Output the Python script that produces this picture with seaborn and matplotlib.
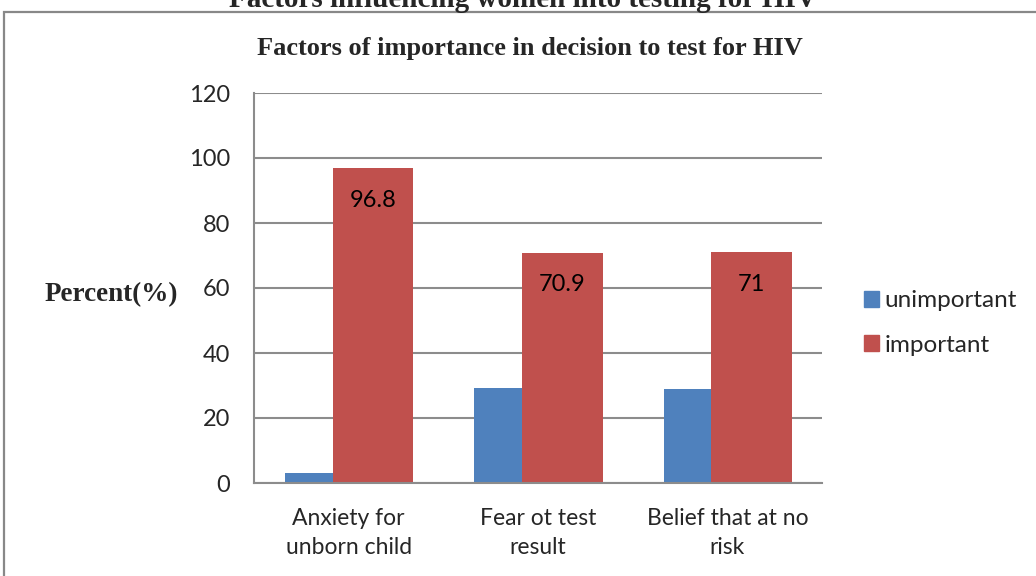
import pandas as pd
import matplotlib.pyplot as plt
import matplotlib.patches as mpatches
import seaborn as sns

# data
factors = ["Anxiety for\nunborn child", "Fear ot test\nresult", "Belief that at no\nrisk"]
unimportant = [3.2, 29.1, 29.0]
important = [96.8, 70.9, 71.0]
series_names = ["unimportant", "important"]
y_ticks = [0, 20, 40, 60, 80, 100, 120]

colors = {"unimportant": "#4F81BD", "important": "#C0504D"}
grid_gray = "#8C8C8C"
serif = ["Liberation Serif", "DejaVu Serif"]
sans = ["Lato", "DejaVu Sans"]

df = pd.DataFrame({
    "factor": factors * 2,
    "series": ["unimportant"] * 3 + ["important"] * 3,
    "percent": unimportant + important,
})

sns.set_style("white")
plt.rcParams["font.family"] = sans

fig = plt.figure(figsize=(10.36, 5.76), dpi=100)
ax = fig.add_axes([254 / 1036, 1 - 483 / 576, 568 / 1036, 390 / 576])

sns.barplot(data=df, x="factor", y="percent", hue="series", hue_order=series_names,
            palette=colors, saturation=1, errorbar=None, ax=ax, legend=False)

# the original has a narrow blue bar and a wider red bar in each group
offsets = {"unimportant": (-0.337, 0.253), "important": (-0.084, 0.426)}
for cont, name in zip(ax.containers, series_names):
    off, w = offsets[name]
    for i, bar in enumerate(cont):
        bar.set_x(i + off)
        bar.set_width(w)
        bar.set_edgecolor("none")

# value labels inside the red bars
for bar, v in zip(ax.containers[1], important):
    ax.annotate(f"{v:g}", (bar.get_x() + bar.get_width() / 2, v),
                xytext=(0, -32), textcoords="offset pixels",
                ha="center", va="center", fontsize=17, color="black")

ax.set_xlim(-0.5, 2.5)
ax.set_ylim(0, 120)
ax.set_yticks(y_ticks)
ax.yaxis.grid(True, color=grid_gray, linewidth=1.5)
ax.set_axisbelow(True)
for side in ["top", "right"]:
    ax.spines[side].set_visible(False)
for side in ["left", "bottom"]:
    ax.spines[side].set_color(grid_gray)
    ax.spines[side].set_linewidth(1.5)
ax.tick_params(axis="y", length=0, pad=17, labelsize=17)
ax.tick_params(axis="x", length=0, pad=18, labelsize=16.5)
for lab in ax.get_xticklabels():
    lab.set_linespacing(1.5)
ax.set_xlabel("")

ax.set_ylabel("Percent(%)", rotation=0, family=serif, fontweight="bold", fontsize=19.5,
              ha="center", va="center")
ax.yaxis.set_label_coords((111 - 254) / 568, (483 - 295) / 390)

handles = [mpatches.Patch(color=colors[n], label=n) for n in series_names]
fig.legend(handles=handles, loc="center left", bbox_to_anchor=(864 / 1036, 1 - 323 / 576),
           frameon=False, fontsize=17.5, handlelength=0.6, handleheight=0.6,
           handletextpad=0.25, labelspacing=0.95, borderpad=0, borderaxespad=0)

fig.text(530 / 1036, 1 - 48 / 576, "Factors of importance in decision to test for HIV",
         family=serif, fontweight="bold", fontsize=19, ha="center", va="center")

# clipped heading above the chart box
fig.text(523 / 1036, 1 - 7 / 576, "Factors influencing women into testing for HIV",
         family=serif, fontweight="bold", fontsize=21, ha="center", va="baseline")

# chart border running off the right and bottom
fig.patches.append(mpatches.Rectangle((4 / 1036, -0.1), 1.2, 1 - 12 / 576 + 0.1,
                                      transform=fig.transFigure, fill=False,
                                      edgecolor="#888888", linewidth=1.6))

fig.savefig("out.png", dpi=100)
